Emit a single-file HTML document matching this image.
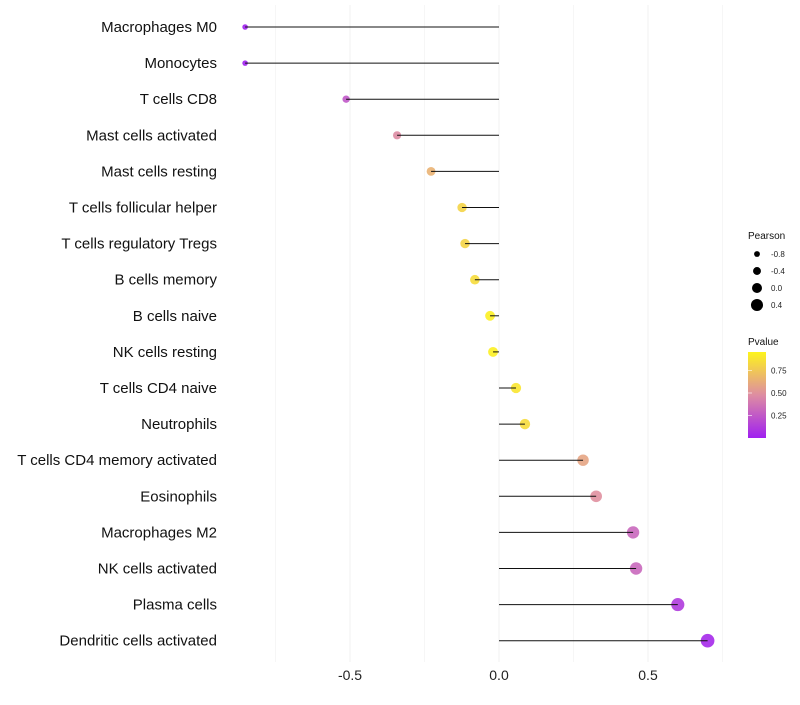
<!DOCTYPE html>
<html><head><meta charset="utf-8"><style>
body{margin:0;background:#fff;font-family:"Liberation Sans",sans-serif}
</style></head><body>
<svg id="chart" width="800" height="700" xmlns="http://www.w3.org/2000/svg" font-family="Liberation Sans, sans-serif"></svg>
<script>
const categories=["Macrophages M0","Monocytes","T cells CD8","Mast cells activated","Mast cells resting","T cells follicular helper","T cells regulatory  Tregs ","B cells memory","B cells naive","NK cells resting","T cells CD4 naive","Neutrophils","T cells CD4 memory activated","Eosinophils","Macrophages M2","NK cells activated","Plasma cells","Dendritic cells activated"];
const pearson=[-0.852,-0.852,-0.513,-0.342,-0.228,-0.124,-0.114,-0.081,-0.03,-0.02,0.057,0.087,0.282,0.326,0.45,0.46,0.60,0.70];
const pvalues=[0.0,0.0,0.25,0.48,0.66,0.82,0.82,0.86,0.95,0.95,0.9,0.86,0.6,0.5,0.32,0.32,0.12,0.04];
const xTicks=[-0.5,0,0.5];
const xTickLabels=["-0.5","0.0","0.5"];
const sizeLegend=[-0.8,-0.4,0.0,0.4];
const colorTicks=[0.75,0.5,0.25];

const svg=document.getElementById('chart');
const NS="http://www.w3.org/2000/svg";
const x=v=>499+v*298;
const y=i=>27+i*36.1;
const r=v=>5+2.6*v;
const C0=[160,32,240],C1=[224,144,160],C2=[255,250,20];
function col(p){let a,b,t;if(p<0.5){a=C0;b=C1;t=p/0.5;}else{a=C1;b=C2;t=(p-0.5)/0.5;}return `rgb(${a.map((c,k)=>Math.round(c+(b[k]-c)*t)).join(',')})`;}
function el(t,at,txt){const e=document.createElementNS(NS,t);for(const k in at)e.setAttribute(k,at[k]);if(txt!==undefined)e.textContent=txt;svg.appendChild(e);return e;}

for(let v=-0.75;v<=0.76;v+=0.25){
 const g=el('line',{x1:x(v),x2:x(v),y1:5,y2:662,stroke:'#f0f0f0','stroke-width':Math.abs(v*4)%2===1?0.6:1});
 
 
}
xTicks.forEach((t,i)=>{
 const e=el('text',{x:x(t),y:680,'text-anchor':'middle','font-size':14,fill:'#222'},xTickLabels[i]);
 
 
});
categories.forEach((c,i)=>{
 const l=el('text',{x:217,y:y(i)+5,'text-anchor':'end','font-size':15,fill:'#111'},c);
 
 
 const p=el('circle',{cx:x(pearson[i]),cy:y(i),r:r(pearson[i]),fill:col(pvalues[i]),'fill-opacity':0.9});
 
 
 const s=el('line',{x1:x(0),x2:x(pearson[i]),y1:y(i),y2:y(i),stroke:'#111','stroke-width':1});
 
 
});
let t=el('text',{x:748,y:239,'font-size':10,fill:'#111'},'Pearson');


sizeLegend.forEach((v,i)=>{
 const c=el('circle',{cx:757,cy:254+i*17,r:r(v),fill:'#000'});
 
 
 const tt=el('text',{x:771,y:257+i*17,'font-size':8,fill:'#222'},v.toFixed(1));
 
 
});
t=el('text',{x:748,y:345,'font-size':10,fill:'#111'},'Pvalue');


const defs=el('defs',{});
const lg=document.createElementNS(NS,'linearGradient');
lg.setAttribute('id','pg');lg.setAttribute('x1','0');lg.setAttribute('y1','1');lg.setAttribute('x2','0');lg.setAttribute('y2','0');
[0,0.25,0.5,0.75,1].forEach(o=>{const s=document.createElementNS(NS,'stop');s.setAttribute('offset',o);s.setAttribute('stop-color',col(o*0.97));lg.appendChild(s);});
defs.appendChild(lg);
const bar=el('rect',{x:748,y:352,width:18,height:86,fill:'url(#pg)'});


colorTicks.forEach(v=>{
 const yy=438-v*90;
 const tk=el('line',{x1:748,x2:752,y1:yy,y2:yy,stroke:'#fff','stroke-width':0.6});
 
 
 const tt=el('text',{x:771,y:yy+3,'font-size':8,fill:'#222'},v.toFixed(2));
 
 
});
</script>
</body></html>
